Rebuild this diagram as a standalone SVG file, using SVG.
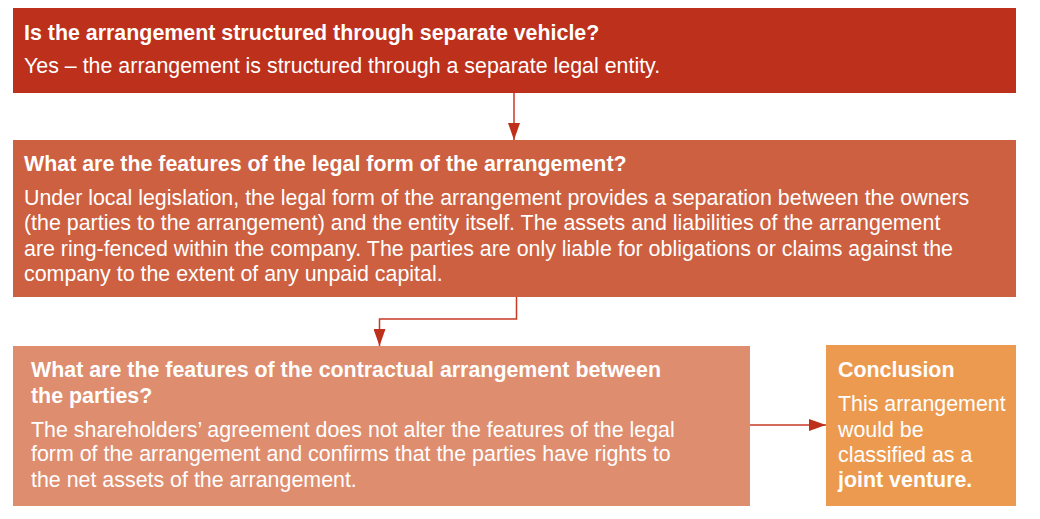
<svg xmlns="http://www.w3.org/2000/svg" width="1040" height="519" viewBox="0 0 1040 519">
<style>
text{font-family:"Liberation Sans",Arial,sans-serif;fill:#fff;font-size:21.4px}
.b{font-weight:bold}
.c{fill:none;stroke:#C73A26;stroke-width:1.5}
</style>
<defs>
<marker id="ah" markerWidth="17" markerHeight="12" refX="17" refY="6" orient="auto" markerUnits="userSpaceOnUse" viewBox="0 0 17 12">
<path d="M0,0 L17,6 L0,12 z" fill="#BF301C"/>
</marker>
</defs>
<rect width="1040" height="519" fill="#fff"/>
<g id="n1">
<rect x="13" y="8" width="1003" height="85" fill="#BD301C"/>
<text x="24" y="40" class="b">Is the arrangement structured through separate vehicle?</text>
<text x="24" y="73">Yes – the arrangement is structured through a separate legal entity.</text>
</g>
<g id="n2">
<rect x="13" y="140" width="1003" height="157" fill="#CD6040"/>
<text x="24" y="171" class="b">What are the features of the legal form of the arrangement?</text>
<text x="24" y="205">Under local legislation, the legal form of the arrangement provides a separation between the owners</text>
<text x="24" y="230">(the parties to the arrangement) and the entity itself. The assets and liabilities of the arrangement</text>
<text x="24" y="256">are ring-fenced within the company. The parties are only liable for obligations or claims against the</text>
<text x="24" y="281">company to the extent of any unpaid capital.</text>
</g>
<g id="n3">
<rect x="13" y="346" width="737" height="160" fill="#DE8D6F"/>
<text x="31" y="377" class="b">What are the features of the contractual arrangement between</text>
<text x="31" y="403" class="b">the parties?</text>
<text x="31" y="437">The shareholders’ agreement does not alter the features of the legal</text>
<text x="31" y="461">form of the arrangement and confirms that the parties have rights to</text>
<text x="31" y="487">the net assets of the arrangement.</text>
</g>
<g id="n4">
<rect x="826" y="345" width="190" height="161" fill="#EC9A4F"/>
<text x="838" y="377" class="b">Conclusion</text>
<text x="838" y="411">This arrangement</text>
<text x="838" y="437">would be</text>
<text x="838" y="462">classified as a</text>
<text x="838" y="487" class="b">joint venture.</text>
</g>
<g id="connectors">
<path class="c" d="M514,93 V140" marker-end="url(#ah)"/>
<path class="c" d="M516.5,297 V319 H379.5 V346" marker-end="url(#ah)"/>
<path class="c" d="M750,425 H826" marker-end="url(#ah)"/>
</g>
</svg>
